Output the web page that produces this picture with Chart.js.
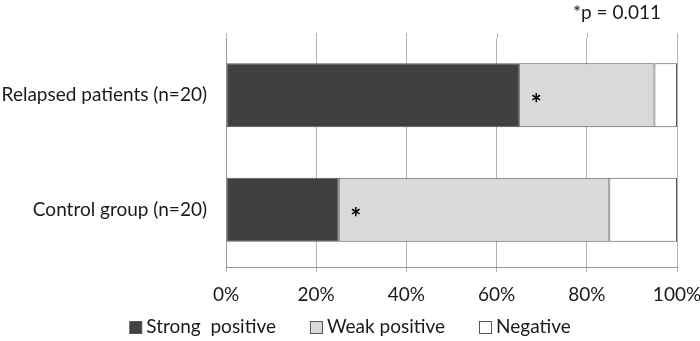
<!DOCTYPE html>
<html>
<head>
    <title>Relapsed vs control</title>
    <script src="https://cdn.jsdelivr.net/npm/chart.js"></script>
    <style>
        body {
            margin: 0;
            padding: 0;
            background: #ffffff;
            overflow: hidden;
        }
        #chart-container {
            position: relative;
            width: 700px;
            height: 341px;
        }
    </style>
</head>
<body>
    <div id="chart-container">
        <canvas id="myChart"></canvas>
    </div>

    <script>
        // data
        const categories = ['Relapsed patients (n=20)', 'Control group (n=20)'];
        const strongPositive = [65, 25];
        const weakPositive = [30, 60];
        const negative = [5, 15];
        const xTicks = [0, 20, 40, 60, 80, 100];
        const pValueNote = '*p = 0.011';
        // asterisks: [dataset index, category index]
        const starMarks = [[1, 0], [1, 1]];

        const FONT = "Lato, 'Open Sans', sans-serif";
        const TEXT = '#1a1a1a';
        const FS = 19;

        // asterisks inside bars, p-value note and a hand drawn legend
        const notesPlugin = {
            id: 'notes',
            beforeDatasetsDraw(chart) {
                // gridlines poke a little above the plot, like the original
                const ctx = chart.ctx, xs = chart.scales.x, top = chart.chartArea.top;
                ctx.save();
                ctx.strokeStyle = '#b3b3b3';
                ctx.lineWidth = 1;
                xTicks.forEach(v => {
                    const x = Math.round(xs.getPixelForValue(v)) + 0.5;
                    ctx.beginPath();
                    ctx.moveTo(x, top - 5);
                    ctx.lineTo(x, top);
                    ctx.stroke();
                });
                ctx.restore();
            },
            afterDatasetsDraw(chart) {
                const ctx = chart.ctx;
                const xs = chart.scales.x, ys = chart.scales.y;
                ctx.save();
                ctx.fillStyle = '#000';
                ctx.font = 'bold 26px ' + FONT;
                ctx.textAlign = 'center';
                ctx.textBaseline = 'middle';
                starMarks.forEach(([ds, cat]) => {
                    let start = 0;
                    for (let i = 0; i < ds; i++) start += chart.data.datasets[i].data[cat];
                    const x = xs.getPixelForValue(start) + 17;
                    const y = ys.getPixelForValue(cat) + 9;
                    ctx.fillText('*', x, y);
                });

                ctx.font = FS + 'px ' + FONT;
                ctx.fillStyle = TEXT;
                ctx.textAlign = 'right';
                ctx.fillText(pValueNote, chart.chartArea.right - 16, 13);

                // legend
                const box = 12, gap = 5, itemGap = 34;
                const items = chart.data.datasets.map(d => ({
                    text: d.label, fill: d.backgroundColor, w: box + gap + ctx.measureText(d.label).width
                }));
                const total = items.reduce((s, it) => s + it.w, 0) + itemGap * (items.length - 1);
                let x = chart.width / 2 - total / 2;
                const y = 327;
                ctx.textAlign = 'left';
                items.forEach(it => {
                    ctx.fillStyle = it.fill;
                    ctx.fillRect(x + 0.5, y - box / 2 + 0.5, box, box);
                    ctx.strokeStyle = '#555555';
                    ctx.lineWidth = 1;
                    ctx.strokeRect(x + 0.5, y - box / 2 + 0.5, box, box);
                    ctx.fillStyle = TEXT;
                    ctx.fillText(it.text, x + box + gap, y);
                    x += it.w + itemGap;
                });
                ctx.restore();
            }
        };

        const ctx = document.getElementById('myChart');

        new Chart(ctx, {
            type: 'bar',
            data: {
                labels: categories,
                datasets: [
                    { label: 'Strong  positive', data: strongPositive, backgroundColor: '#404040' },
                    { label: 'Weak positive', data: weakPositive, backgroundColor: '#d9d9d9' },
                    { label: 'Negative', data: negative, backgroundColor: '#ffffff' }
                ].map(d => Object.assign(d, {
                    borderColor: '#555555',
                    borderWidth: 1,
                    borderSkipped: false,
                    barPercentage: 0.56,
                    categoryPercentage: 1
                }))
            },
            options: {
                indexAxis: 'y',
                responsive: true,
                maintainAspectRatio: false,
                animation: false,
                layout: {
                    padding: { top: 38, right: 23, left: 0, bottom: 0 }
                },
                plugins: {
                    legend: { display: false },
                    tooltip: { enabled: false }
                },
                scales: {
                    x: {
                        stacked: true,
                        min: 0,
                        max: 100,
                        afterBuildTicks(scale) {
                            scale.ticks = xTicks.map(v => ({ value: v }));
                        },
                        afterFit(scale) {
                            scale.height = 74;
                            scale.paddingLeft = 0;
                            scale.paddingRight = 0;
                        },
                        grid: {
                            color: '#b3b3b3',
                            tickLength: 5,
                            tickColor: '#b3b3b3'
                        },
                        border: { color: '#999999' },
                        ticks: {
                            color: TEXT,
                            padding: 11,
                            maxRotation: 0,
                            font: { size: FS, family: FONT },
                            callback: v => v + '%'
                        }
                    },
                    y: {
                        stacked: true,
                        afterFit(scale) { scale.width = 226; },
                        grid: { display: false },
                        border: { color: '#999999' },
                        ticks: {
                            color: TEXT,
                            padding: 11,
                            font: { size: FS, family: FONT }
                        }
                    }
                }
            },
            plugins: [notesPlugin]
        });
    </script>
</body>
</html>
